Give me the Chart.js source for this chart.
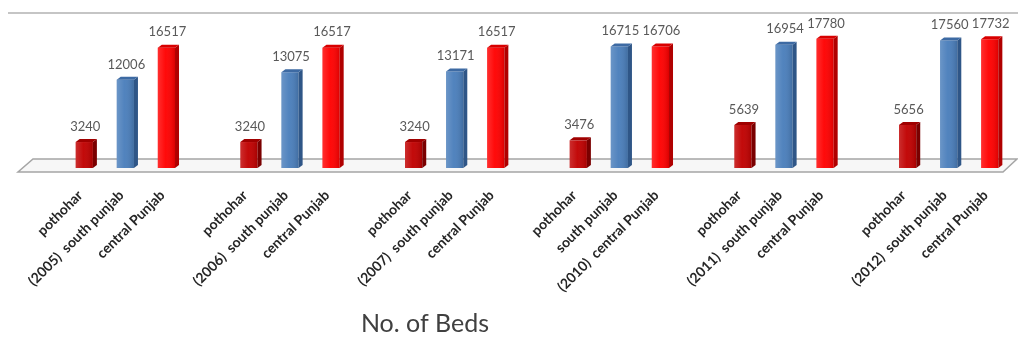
<!DOCTYPE html>
<html>
<head>
<meta charset="utf-8">
<script src="https://cdn.jsdelivr.net/npm/chart.js@4.4.1/dist/chart.umd.min.js"></script>
<style>
  html, body { margin: 0; padding: 0; background: #fff; overflow: hidden; }
  #wrap { width: 1040px; height: 348px; }
</style>
</head>
<body>
<div id="wrap"><canvas id="beds" width="1040" height="348"></canvas></div>
<script>
// hospital beds per region, by year
const years = ["2005", "2006", "2007", "2010", "2011", "2012"];
const regions = ["pothohar", "south punjab", "central Punjab"];
const pothohar = [3240, 3240, 3240, 3476, 5639, 5656];
const southPunjab = [12006, 13075, 13171, 16715, 16954, 17560];
const centralPunjab = [16517, 16517, 16517, 16706, 17780, 17732];
// which region's label carries the year in each group
const yearLabelOn = [1, 1, 1, 2, 1, 1];

const fronts = ["#c00000", "#4a7ebb", "#ff0000"];
const sides = ["#7a0000", "#2f5687", "#b00000"];
const tops = ["#a00000", "#3d6aa3", "#d80000"];

function tickLabel(group, region) {
  const name = regions[region];
  return region === yearLabelOn[group] ? "(" + years[group] + ")  " + name : name;
}

// floor under the bars
const floorPlugin = {
  id: "floor",
  beforeDatasetsDraw(chart) {
    const ctx = chart.ctx, a = chart.chartArea;
    const fy = a.bottom + 4, by = a.bottom - 9;
    const l = a.left - 25, r = a.right - 28;
    ctx.save();
    ctx.beginPath();
    ctx.moveTo(l, fy);
    ctx.lineTo(r, fy);
    ctx.lineTo(r + 14, by);
    ctx.lineTo(l + 15, by);
    ctx.closePath();
    ctx.fillStyle = "#f7f7f7";
    ctx.fill();
    ctx.strokeStyle = "#a5a5a5";
    ctx.lineWidth = 1.5;
    ctx.stroke();
    // top border line
    ctx.beginPath();
    ctx.moveTo(8, 13);
    ctx.lineTo(chart.width, 13);
    ctx.strokeStyle = "#8c8c8c";
    ctx.lineWidth = 1.2;
    ctx.stroke();
    ctx.restore();
  }
};

// side/top faces, value labels and slanted category labels
const barsPlugin = {
  id: "bars3d",
  afterDatasetsDraw(chart) {
    const ctx = chart.ctx;
    const d = 4, dy = 3;
    ctx.save();
    chart.data.datasets.forEach((ds, di) => {
      chart.getDatasetMeta(di).data.forEach((bar, i) => {
        const half = bar.width / 2;
        const x0 = bar.x - half, x1 = bar.x + half;
        // shading across the front face
        const g = ctx.createLinearGradient(x0, 0, x1, 0);
        g.addColorStop(0, "rgba(255,255,255,0.18)");
        g.addColorStop(0.45, "rgba(255,255,255,0.04)");
        g.addColorStop(1, "rgba(0,0,0,0.14)");
        ctx.fillStyle = g;
        ctx.fillRect(x0, bar.y, bar.width, bar.base - bar.y);

        ctx.fillStyle = sides[di];
        ctx.beginPath();
        ctx.moveTo(x1, bar.y);
        ctx.lineTo(x1 + d, bar.y - dy);
        ctx.lineTo(x1 + d, bar.base - dy);
        ctx.lineTo(x1, bar.base);
        ctx.closePath();
        ctx.fill();
        ctx.fillStyle = tops[di];
        ctx.beginPath();
        ctx.moveTo(x0, bar.y);
        ctx.lineTo(x0 + d, bar.y - dy);
        ctx.lineTo(x1 + d, bar.y - dy);
        ctx.lineTo(x1, bar.y);
        ctx.closePath();
        ctx.fill();

        ctx.fillStyle = "#595959";
        ctx.font = "13px Lato";
        ctx.textAlign = "center";
        ctx.textBaseline = "bottom";
        ctx.fillText(String(ds.data[i]), bar.x + 1, bar.y - 9);

        ctx.save();
        ctx.translate(bar.x - 4, 193);
        ctx.rotate(-Math.PI / 4);
        ctx.fillStyle = "#262626";
        ctx.font = "bold 14px Lato";
        ctx.textAlign = "right";
        ctx.textBaseline = "middle";
        ctx.fillText(tickLabel(i, di), 0, 0);
        ctx.restore();
      });
    });
    ctx.fillStyle = "#404040";
    ctx.font = "25px Lato";
    ctx.textAlign = "center";
    ctx.textBaseline = "alphabetic";
    ctx.fillText("No. of Beds", 425, 332);
    ctx.restore();
  }
};

const series = [pothohar, southPunjab, centralPunjab];

new Chart(document.getElementById("beds"), {
  type: "bar",
  data: {
    labels: years,
    datasets: series.map((vals, k) => ({
      label: regions[k],
      data: vals,
      base: -420,
      backgroundColor: fronts[k],
      categoryPercentage: 0.748,
      barPercentage: 0.42
    }))
  },
  options: {
    responsive: false,
    animation: false,
    layout: { padding: { left: 43, right: 9, top: 16, bottom: 180 } },
    scales: {
      x: { display: false },
      y: { display: false, min: -420, max: 21000 }
    },
    plugins: {
      legend: { display: false },
      tooltip: { enabled: false }
    }
  },
  plugins: [floorPlugin, barsPlugin]
});
</script>
</body>
</html>
